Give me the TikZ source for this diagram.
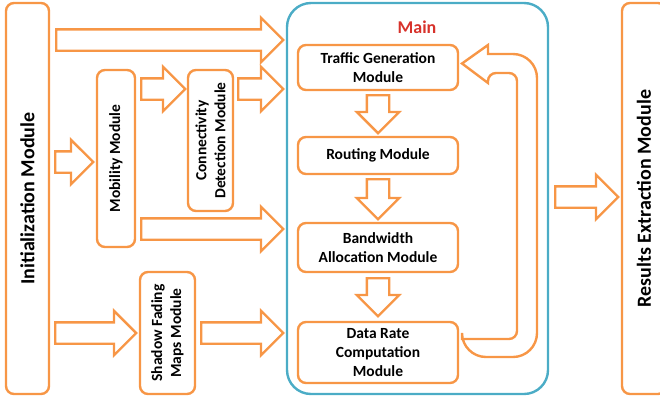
\documentclass[tikz,border=0pt]{standalone}
\usepackage{fontspec}
\setmainfont{Carlito}
\usetikzlibrary{positioning,shapes.arrows}
\definecolor{modorange}{HTML}{F79646}
\definecolor{mainblue}{HTML}{4BACC6}
\definecolor{mainred}{HTML}{D7322B}

\begin{document}
\begin{tikzpicture}[
	x=1pt,y=-1pt,
	font=\bfseries,
	module/.style={draw=modorange,line width=2.4pt,rounded corners=8pt,inner sep=0pt,align=center,fill=white},
	blockarr/.style={draw=modorange,line width=2.4pt,single arrow,anchor=tail,inner xsep=0pt,inner ysep=9.5pt,single arrow head extend=11.5pt},
	downarr/.style={blockarr,inner ysep=10pt,single arrow head extend=10pt,rotate=-90},
	]
	\useasboundingbox (0,0) rectangle (660,399);
	% big side boxes
	\node[module, minimum width=43pt, minimum height=391pt] (init) at (27.5,198.5) {};
	\node[rotate=90, font=\bfseries\fontsize{20}{24}\selectfont] at (init.center) {Initialization Module};
	\node[module, minimum width=44pt, minimum height=391pt] (results) at (644,198.5) {};
	\node[rotate=90, font=\bfseries\fontsize{20}{24}\selectfont] at (results.center) {Results Extraction Module};
	% main box
	\node[draw=mainblue, line width=2.4pt, rounded corners=24pt, minimum width=261pt, minimum height=391pt] (main) at (417.5,198.5) {};
	\node[text=mainred, font=\bfseries\fontsize{18}{22}\selectfont] (maintitle) at (417,27) {Main};
	% left modules
	\node[module, minimum width=38pt, minimum height=177pt] (mobility) at (116,158.5) {};
	\node[rotate=90, font=\bfseries\fontsize{15.5}{19}\selectfont] at (mobility.center) {Mobility Module};
	\node[module, minimum width=45pt, minimum height=141pt] (connect) at (210.5,140.5) {};
	\node[rotate=90, align=center, font=\bfseries\fontsize{15.5}{19}\selectfont] at (connect.center) {Connectivity\\Detection Module};
	\node[module, minimum width=55pt, minimum height=122pt] (shadow) at (167.5,333) {};
	\node[rotate=90, align=center, font=\bfseries\fontsize{15.5}{19}\selectfont] at (shadow.center) {Shadow Fading\\Maps Module};
	% modules inside main
	\begin{scope}[every node/.append style={font=\bfseries\fontsize{15.5}{19}\selectfont}]
	\node[module, minimum width=160pt, minimum height=45pt] (traffic) at (378,67.5) {Traffic Generation\\Module};
	\node[module, minimum width=160pt, minimum height=37pt] (routing) at (378,155.5) {Routing Module};
	\node[module, minimum width=160pt, minimum height=49pt] (bandwidth) at (378,247.5) {Bandwidth\\Allocation Module};
	\node[module, minimum width=160pt, minimum height=61pt] (datarate) at (378,352.5) {Data Rate\\Computation\\Module};
	\end{scope}
	% block arrows
	\node[blockarr, minimum height=227pt] (a1) at (55,40) {};
	\node[blockarr, minimum height=44pt] (a2) at (140,89) {};
	\node[blockarr, minimum height=45pt] (a3) at (237,89) {};
	\node[blockarr, minimum height=38pt] (a4) at (54,162) {};
	\node[blockarr, minimum height=142pt] (a5) at (140,229) {};
	\node[blockarr, minimum height=81pt] (a6) at (54,333) {};
	\node[blockarr, minimum height=82pt] (a7) at (200,333) {};
	\node[blockarr, minimum height=63pt] (a8) at (554,197) {};
	\node[downarr, minimum height=38pt] (d1) at (378,94) {};
	\node[downarr, minimum height=40pt] (d2) at (378,178) {};
	\node[downarr, minimum height=38pt] (d3) at (378,277) {};
	% loop back arrow
	\draw[draw=modorange, line width=2.4pt, line join=miter]
		(462,339) [rounded corners=8pt] -- (517,339) -- (517,73) -- (488,73) [sharp corners] -- (488,83) -- (462,63.5) -- (488,45) -- (488,54)
		[rounded corners=24pt] -- (537,54) -- (537,357) -- (462,357) [sharp corners] -- cycle;
\end{tikzpicture}
\end{document}
